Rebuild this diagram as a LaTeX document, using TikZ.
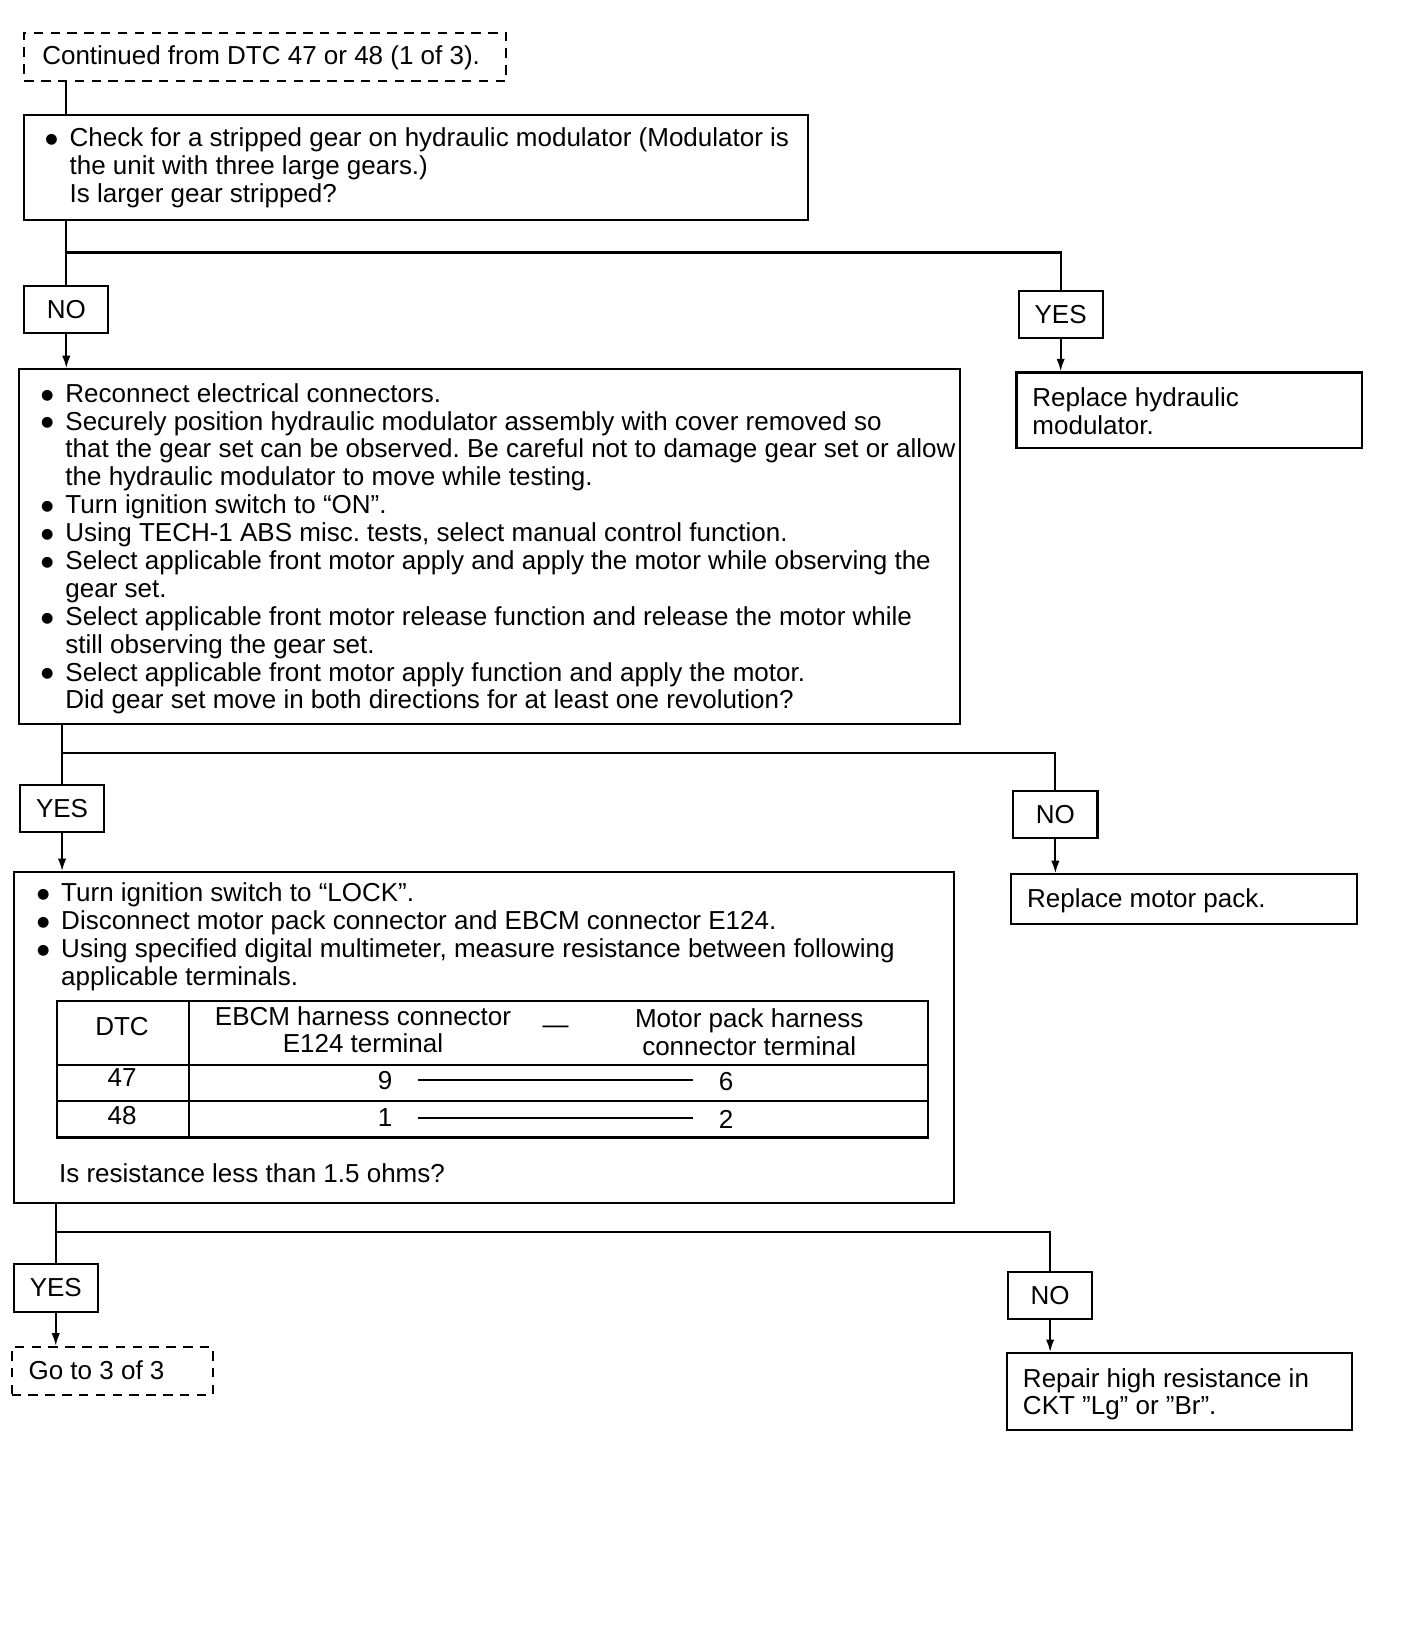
\documentclass[tikz,border=0pt]{standalone}
\usepackage{fontspec}
\setmainfont{Liberation Sans}
\newfontfamily\dvs{DejaVu Sans}
\usetikzlibrary{arrows.meta}
\newcommand\bul{\makebox[24pt][l]{\hspace*{1pt}\raisebox{3pt}{\dvs\fontsize{13.5}{13.5}\selectfont ●}}}
\newcommand\ind{\hspace*{24pt}}
\newcommand\fr{\rule{0pt}{18pt}}
\begin{document}
\frenchspacing
\begin{tikzpicture}[x=1pt,y=-1pt,
  box/.style={draw, line width=2pt, anchor=north west, inner sep=0pt},
  dbox/.style={box, dash pattern=on 9pt off 7pt},
  lbl/.style={draw, line width=2pt, inner sep=0pt, minimum width=80pt, minimum height=45pt, font=\fontsize{24.7}{26.5}\selectfont},
  txt/.style={inner sep=0pt, align=left, font=\fontsize{24.7}{26.5}\selectfont},
  conn/.style={line width=2pt},
  arr/.style={line width=2pt, -{Latex[length=12pt,width=8pt]}}]
\useasboundingbox (0,0) rectangle (1338,1570);
\fill[white] (0,0) rectangle (1338,1570);

% start
\node[dbox, minimum width=458pt, minimum height=46pt] (start) at (22,30) {};
\node[txt, anchor=base west] (startt) at (40,61) {Continued from DTC 47 or 48 (1 of 3).};

% question 1
\node[box, minimum width=745pt, minimum height=100pt] (q1) at (22,108) {};
\node[txt, anchor=north west] (q1t) at (42,121) {\fr\bul Check for a stripped gear on hydraulic modulator (Modulator is\\
\ind the unit with three large gears.)\\
\ind Is larger gear stripped?};

\node[lbl] (no1) at (63,294) {NO};
\node[lbl] (yes1) at (1008,299) {YES};
\node[box, minimum width=328pt, minimum height=72pt] (r1) at (965,353) {};
\node[txt, anchor=north west] (r1t) at (981,368) {\fr Replace hydraulic\\modulator.};

% question 2
\node[box, minimum width=894pt, minimum height=337pt] (q2) at (17,350) {};
\node[txt, anchor=north west] (q2t) at (38,364) {\fr\bul Reconnect electrical connectors.\\
\bul Securely position hydraulic modulator assembly with cover removed so\\
\ind that the gear set can be observed. Be careful not to damage gear set or allow\\
\ind the hydraulic modulator to move while testing.\\
\bul Turn ignition switch to “ON”.\\
\bul Using TECH-1 ABS misc. tests, select manual control function.\\
\bul Select applicable front motor apply and apply the motor while observing the\\
\ind gear set.\\
\bul Select applicable front motor release function and release the motor while\\
\ind still observing the gear set.\\
\bul Select applicable front motor apply function and apply the motor.\\
\ind Did gear set move in both directions for at least one revolution?};

\node[lbl] (yes2) at (59,768.5) {YES};
\node[lbl] (no2) at (1003,774) {NO};
\node[box, minimum width=329pt, minimum height=47pt] (r2) at (960,830) {};
\node[txt, anchor=base west] (r2t) at (976,862) {Replace motor pack.};

% question 3
\node[box, minimum width=894pt, minimum height=314pt] (q3) at (12,828) {};
\node[txt, anchor=north west] (q3t) at (34,839) {\fr\bul Turn ignition switch to “LOCK”.\\
\bul Disconnect motor pack connector and EBCM connector E124.\\
\bul Using specified digital multimeter, measure resistance between following\\
\ind applicable terminals.};

% table
\draw[line width=2pt] (54,951) rectangle (882,1081);
\draw[line width=2pt] (180,951) -- (180,1081);
\draw[line width=2pt] (54,1012) -- (882,1012);
\draw[line width=2pt] (54,1046) -- (882,1046);
\node[txt, anchor=base] (hdtc) at (116,984) {DTC};
\node[txt, align=center, anchor=north] (hebcm) at (345,956) {\fr EBCM harness connector\\E124 terminal};
\node[txt, anchor=base] (hdash) at (528,982) {—};
\node[txt, align=center, anchor=north] (hmot) at (712,958) {\fr Motor pack harness\\connector terminal};
\node[txt, anchor=base] (d47) at (116,1033) {47};
\node[txt, anchor=base] (a9) at (366,1035) {9};
\node[txt, anchor=base] (b6) at (690,1036) {6};
\draw[line width=1.8pt, shorten <=24pt, shorten >=24pt] (a9.east) -- (b6.west |- a9.east);
\node[txt, anchor=base] (d48) at (116,1069) {48};
\node[txt, anchor=base] (a1) at (366,1071) {1};
\node[txt, anchor=base] (b2) at (690,1072) {2};
\draw[line width=1.8pt, shorten <=24pt, shorten >=24pt] (a1.east) -- (b2.west |- a1.east);
\node[txt, anchor=base west] (q3q) at (56,1124) {Is resistance less than 1.5 ohms?};

\node[lbl] (yes3) at (53,1224) {YES};
\node[lbl] (no3) at (998,1231) {NO};
\node[dbox, minimum width=191pt, minimum height=46pt] (go) at (10,1279) {};
\node[txt, anchor=base west] (got) at (27,1311) {Go to 3 of 3};
\node[box, minimum width=328pt, minimum height=73pt] (r3) at (956,1285) {};
\node[txt, anchor=north west] (r3t) at (972,1300) {\fr Repair high resistance in\\CKT "Lg" or "Br".};

% connectors
\coordinate (j1) at (63,240);
\draw[conn] (start.south -| j1) -- (q1.north -| j1);
\draw[conn] (q1.south -| j1) -- (j1) -| (yes1.north);
\draw[conn] (j1) -- (no1.north);
\draw[arr] (no1.south) -- (q2.north -| no1.south);
\draw[arr] (yes1.south) -- (r1.north -| yes1.south);

\coordinate (j2) at (59,716);
\draw[conn] (q2.south -| j2) -- (j2) -| (no2.north);
\draw[conn] (j2) -- (yes2.north);
\draw[arr] (yes2.south) -- (q3.north -| yes2.south);
\draw[arr] (no2.south) -- (r2.north -| no2.south);

\coordinate (j3) at (53,1171);
\draw[conn] (q3.south -| j3) -- (j3) -| (no3.north);
\draw[conn] (j3) -- (yes3.north);
\draw[arr] (yes3.south) -- (go.north -| yes3.south);
\draw[arr] (no3.south) -- (r3.north -| no3.south);
\end{tikzpicture}
\end{document}
